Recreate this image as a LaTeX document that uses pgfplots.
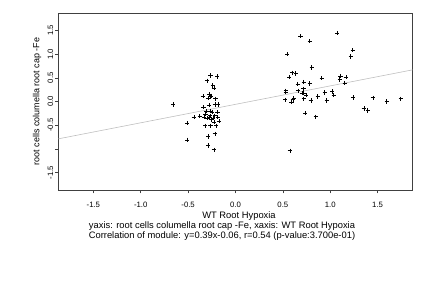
\documentclass[border=0pt]{standalone}
\usepackage{pgfplots}
\pgfplotsset{compat=1.18}
\usepackage{fontspec}
\setmainfont{Liberation Sans}
\begin{document}
\begin{tikzpicture}[font=\fontsize{9.4}{11}\selectfont]
\path[use as bounding box] (0,0) rectangle (432bp,288bp);
\begin{axis}[
  at={(58.3bp,98bp)}, anchor=south west,
  scale only axis, width=354.4bp, height=177bp,
  xmin=-1.87, xmax=1.87, ymin=-1.87, ymax=1.87,
  axis line style={black!75, line width=0.6pt},
  xtick={-1.5,-1,-0.5,0,0.5,1,1.5},
  ytick={-1.5,-1,-0.5,0,0.5,1,1.5},
  xticklabels={-1.5,-1.0,-0.5,0.0,0.5,1.0,1.5},
  yticklabels={-1.5,,-0.5,0.0,0.5,1.0,1.5},
  xtick pos=bottom, ytick pos=left,
  tick align=outside, major tick length=3.5bp,
  tick style={black!75, line width=0.5pt},
  tick label style={font=\fontsize{7.8}{9}\selectfont},
  xticklabel style={anchor=center, yshift=-11.5bp},
  yticklabel style={rotate=90, anchor=south, inner sep=1.5bp},
  clip=true,
]
\addplot[black!25, line width=0.6pt, no marks] coordinates {(-1.87,-0.7893) (1.87,0.6693)};
\addplot[only marks, mark=+, mark size=2.1bp, mark options={black, line width=0.6pt}] coordinates {
(-0.657,-0.063) (-0.51,-0.46) (-0.51,-0.81) (-0.44,-0.33) (-0.377,-0.31)
(-0.345,0.11) (-0.338,-0.12) (-0.33,-0.33) (-0.316,-0.26) (-0.32,-0.51)
(-0.30,0.44) (-0.29,0.07) (-0.288,-0.74) (-0.288,-0.93) (-0.28,0.15)
(-0.28,-0.08) (-0.274,-0.33) (-0.267,-0.2) (-0.264,0.55) (-0.264,0.105)
(-0.264,-0.51) (-0.255,0.12) (-0.25,-0.22) (-0.255,-0.38) (-0.24,0.34)
(-0.229,0.28) (-0.229,-0.44) (-0.229,-1.02) (-0.218,-0.063) (-0.218,-0.68)
(-0.211,0.06) (-0.205,-0.51) (-0.193,0.53) (-0.19,-0.23) (-0.187,-0.33)
(-0.182,-0.063) (-0.176,-0.42) (-0.27,-0.3) (-0.235,-0.35) (-0.30,-0.35)
(-0.31,-0.2) (-0.22,-0.3)
(1.073,1.45) (0.686,1.38) (0.784,1.27) (0.545,1.0) (1.237,1.08) (1.216,0.95)
(0.805,0.72) (0.60,0.61) (0.636,0.59) (0.566,0.51) (0.91,0.49) (1.108,0.54)
(1.10,0.465) (1.164,0.51) (1.153,0.39) (0.657,0.37) (0.72,0.41) (0.784,0.38)
(0.717,0.27) (0.53,0.23) (0.53,0.20) (0.66,0.23) (0.70,0.18) (0.72,0.18)
(0.745,0.14) (0.942,0.19) (1.02,0.21) (1.037,0.13) (0.868,0.105) (1.24,0.085)
(1.449,0.08) (1.744,0.06) (1.596,0.0) (0.524,0.04) (0.615,0.07) (0.605,0.04)
(0.59,-0.015) (0.72,0.06) (0.795,0.02) (0.963,0.02) (1.354,-0.15) (1.396,-0.19)
(0.735,-0.25) (0.847,-0.32) (0.573,-1.04)
};
\end{axis}
\node[rotate=90, font=\fontsize{9}{11}\selectfont] at (37bp,186.5bp) {root cells columella root cap -Fe};
\node[anchor=base] at (239bp,69bp) {WT Root Hypoxia};
\node[anchor=base] at (222bp,59.7bp) {yaxis: root cells columella root cap -Fe, xaxis: WT Root Hypoxia};
\node[anchor=base] at (222bp,49.7bp) {Correlation of module: y=0.39x-0.06, r=0.54 (p-value:3.700e-01)};
\end{tikzpicture}
\end{document}
